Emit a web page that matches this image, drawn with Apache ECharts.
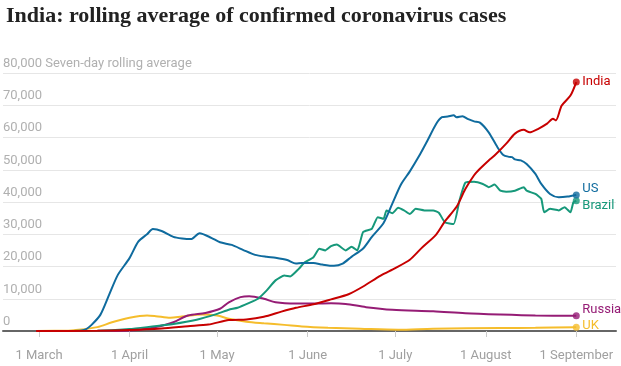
<!DOCTYPE html>
<html>
<head>
<meta charset="utf-8">
<script src="https://cdn.jsdelivr.net/npm/echarts@6/dist/echarts.min.js"></script>
<style>
html,body{margin:0;padding:0;background:#fff;}
#chart{width:621px;height:366px;}
</style>
</head>
<body>
<div id="chart"></div>
<script>
// Days since 1 March 2020, seven-day rolling average of confirmed cases
const india = [[-1,0],[20,50],[31,300],[42,800],[51,1500],[58,2000],[65,3400],[71,3600],[77,4400],[83,6000],[88,7200],[94,8300],[100,9800],[106,11400],[111,13800],[117,17200],[122,19500],[127,22100],[131,25700],[136,29900],[139,34000],[143,38500],[146,44000],[149,48300],[151,50300],[154,52900],[156,54400],[160,58100],[163,61200],[166,62400],[168,61600],[171,62700],[174,64300],[176,65800],[177,65300],[179,69900],[182,73000],[184,77200]];
const us = [[-1,0],[14,100],[16,500],[18,1900],[21,5000],[24,11200],[27,17400],[31,22600],[34,27700],[37,30000],[39,31600],[42,31000],[46,29200],[49,28700],[52,28500],[55,30300],[59,28900],[62,27500],[66,26700],[70,25100],[74,23600],[78,23000],[81,22700],[85,22000],[88,20900],[90,21100],[94,21100],[97,20600],[101,20200],[104,20900],[107,23000],[111,25600],[114,29200],[118,33500],[121,39500],[124,45500],[127,49500],[130,54000],[133,59000],[136,64200],[138,66300],[140,66500],[142,66900],[143,66300],[145,66600],[147,65700],[149,65000],[151,64600],[154,61600],[157,57000],[159,54600],[161,54000],[162,53900],[163,53200],[165,52900],[167,51800],[170,48700],[172,45600],[175,42500],[178,41500],[181,41700],[184,42200]];
const brazil = [[-1,0],[20,50],[31,600],[37,1200],[46,2200],[54,3500],[61,5300],[65,6600],[68,7200],[72,8700],[75,10000],[78,12600],[81,15700],[84,17200],[86,16900],[89,19300],[91,21300],[94,22900],[96,25500],[98,25000],[100,26300],[102,26800],[105,25000],[107,26100],[109,25000],[111,30700],[114,31700],[116,35300],[118,34800],[119,37400],[121,36500],[123,38200],[125,37400],[127,36300],[129,37900],[132,37400],[135,37400],[137,36600],[139,33700],[142,33200],[144,40500],[146,46000],[149,46300],[152,45600],[154,44600],[156,45400],[158,43500],[160,43200],[163,43500],[166,44600],[167,43500],[170,42500],[172,41000],[173,36800],[175,37900],[178,37400],[180,38400],[182,36800],[183,39900],[184,40400]];
const russia = [[-1,0],[25,30],[31,150],[35,500],[40,1200],[46,2700],[51,4800],[57,5600],[62,6900],[65,8900],[69,10500],[72,10800],[77,10000],[81,8900],[88,8500],[94,8500],[100,8600],[105,8400],[112,7400],[121,6600],[135,6100],[146,5500],[158,5100],[170,4800],[184,4700]];
const uk = [[-1,30],[10,100],[12,200],[20,1200],[25,2700],[31,4100],[37,4800],[40,4600],[45,4100],[49,4500],[56,5100],[61,4800],[65,3800],[71,2900],[77,2400],[84,1900],[90,1400],[99,1000],[110,700],[123,400],[135,700],[158,900],[170,1000],[184,1200]];

const seriesNames = ['UK','Russia','Brazil','US','India'];
const seriesData = [uk, russia, brazil, us, india];
const seriesColors = ['#f5bd2c','#951c75','#16987a','#0f6b9e','#c70000'];
const seriesSmooth = [0.3, 0.3, 0.15, 0.25, 0.25];
const labelOffsets = [[0,-1],[0,-6],[0,5],[0,-6],[0,0]];

const monthTicks = [0,31,61,92,122,153,184];
const monthLabels = ['1 March','1 April','1 May','1 June','1 July','1 August','1 September'];
const yTopLabel = 'Seven-day rolling average';

const chart = echarts.init(document.getElementById('chart'), null, {renderer:'canvas'});

const series = [];
seriesData.forEach((d, i) => {
  series.push({
    type: 'line', name: seriesNames[i], data: d, showSymbol: false, smooth: seriesSmooth[i],
    lineStyle: {color: seriesColors[i], width: 2}, itemStyle: {color: seriesColors[i]},
    z: 2 + i,
    endLabel: {show: true, formatter: seriesNames[i], color: seriesColors[i], fontFamily: 'Roboto', fontSize: 13, distance: 6, offset: labelOffsets[i]},
    emphasis: {disabled: true}
  });
  series.push({
    type: 'scatter', data: [d[d.length - 1]], symbolSize: 7,
    itemStyle: {color: seriesColors[i]}, z: 10, silent: true
  });
});

chart.setOption({
  animation: false,
  title: {
    text: 'India: rolling average of confirmed coronavirus cases',
    left: 1, top: 0,
    textStyle: {fontFamily: 'Liberation Serif', fontWeight: 'bold', fontSize: 22, color: '#222'}
  },
  grid: {left: 3, right: 5, top: 73, bottom: 35, containLabel: false},
  xAxis: {
    type: 'value', min: -12.33, max: 197.6,
    axisLine: {show: true, onZero: false, lineStyle: {color: '#666', width: 2}},
    axisTick: {show: true, customValues: monthTicks, length: 6, lineStyle: {color: '#ccc'}},
    axisLabel: {customValues: monthTicks, margin: 18, color: '#a0a0a0', fontFamily: 'Roboto', fontSize: 13,
      formatter: v => monthLabels[monthTicks.indexOf(v)] || ''},
    splitLine: {show: false}
  },
  yAxis: {
    type: 'value', min: 0, max: 80000, interval: 10000,
    axisLine: {show: false}, axisTick: {show: false},
    axisLabel: {inside: true, margin: 0, color: '#b0b0b0', fontFamily: 'Roboto', fontSize: 13,
      verticalAlign: 'bottom', padding: [0,0,3,0],
      formatter: v => v === 80000 ? '80,000 ' + yTopLabel : v.toLocaleString('en-US')},
    splitLine: {lineStyle: {color: '#e6e6e6', width: 1}}
  },
  series: series
});
</script>
</body>
</html>
